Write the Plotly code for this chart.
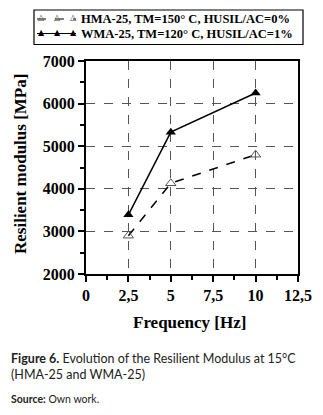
import plotly.graph_objects as go

frequency = [2.5, 5, 10]
hma_values = [2900, 4130, 4800]
wma_values = [3390, 5330, 6250]
hma_name = "HMA-25, TM=150° C, HUSIL/AC=0%"
wma_name = "WMA-25, TM=120° C, HUSIL/AC=1%"
x_tickvals = [0, 2.5, 5, 7.5, 10, 12.5]
x_ticktext = ["0", "2,5", "5", "7,5", "10", "12,5"]
y_tickvals = [2000, 3000, 4000, 5000, 6000, 7000]

serif = "Liberation Serif"
W, H = 323, 415
L, R, T, B = 86, 25, 61, 141
PW, PH = W - L - R, H - T - B


def px(x):
    return (x - L) / PW


def py(y):
    return (H - B - y) / PH


fig = go.Figure()
fig.add_trace(go.Scatter(
    x=frequency, y=hma_values, name=hma_name, mode="lines+markers",
    line=dict(color="black", width=1.5, dash="dash"),
    marker=dict(symbol="triangle-up-open", size=9, color="#555555", line=dict(width=1)),
))
fig.add_trace(go.Scatter(
    x=frequency, y=wma_values, name=wma_name, mode="lines+markers",
    line=dict(color="black", width=1.5),
    marker=dict(symbol="triangle-up", size=9, color="black"),
))

axis_common = dict(
    showline=True, linecolor="black", linewidth=2, mirror=True,
    ticks="outside", ticklen=6, tickwidth=2, tickcolor="black",
    showgrid=True, gridcolor="#555555", gridwidth=1, griddash="dash",
    zeroline=False,
    tickfont=dict(family=serif, size=16, color="black", weight="bold"),
)

fig.update_layout(
    width=W, height=H,
    margin=dict(l=L, r=R, t=T, b=B, autoexpand=False),
    paper_bgcolor="white", plot_bgcolor="white",
    showlegend=False,
    xaxis=dict(
        range=[0, 12.5], tickvals=x_tickvals, ticktext=x_ticktext,
        minor=dict(ticks="outside", ticklen=4, tickwidth=2, tickcolor="black", dtick=1.25, tick0=0, showgrid=False),
        **axis_common,
    ),
    yaxis=dict(
        range=[2000, 7000], tickvals=y_tickvals,
        minor=dict(ticks="outside", ticklen=4, tickwidth=2, tickcolor="black", dtick=500, tick0=2000, showgrid=False),
        **axis_common,
    ),
)

# legend box (drawn manually to match the compact boxed key)
fig.add_shape(type="rect", xref="paper", yref="paper",
              x0=px(34), x1=px(303), y0=py(10), y1=py(44.5),
              line=dict(color="black", width=1.2), fillcolor="white")
legend_rows = [
    (hma_name, 19, "dash", "△", "#444444"),
    (wma_name, 33.5, "solid", "▲", "black"),
]
for name, ry, dash, sym, scol in legend_rows:
    fig.add_shape(type="line", xref="paper", yref="paper",
                  x0=px(37), x1=px(76), y0=py(ry), y1=py(ry),
                  line=dict(color="black", width=1.2, dash=dash))
    for sx in (41, 57, 73):
        fig.add_annotation(text=sym, xref="paper", yref="paper",
                           x=px(sx), y=py(ry - 1), xanchor="center", yanchor="middle",
                           showarrow=False, font=dict(family="DejaVu Sans", size=8, color=scol))
    fig.add_annotation(text="<b>" + name + "</b>", xref="paper", yref="paper",
                       x=px(79), y=py(ry), xanchor="left", yanchor="middle", showarrow=False,
                       font=dict(family=serif, size=12.5, color="black"))

fig.add_annotation(
    text="<b>Frequency [Hz]</b>", xref="paper", yref="paper",
    x=px(189), y=py(322), xanchor="center", yanchor="middle", showarrow=False,
    font=dict(family=serif, size=17, color="black"),
)
fig.add_annotation(
    text="<b>Resilient modulus [MPa]</b>", xref="paper", yref="paper",
    x=px(20), y=py(164), xanchor="center", yanchor="middle", showarrow=False,
    textangle=-90, font=dict(family=serif, size=17, color="black"),
)

sans = "Lato"
fig.add_annotation(
    text="<b>Figure 6.</b> Evolution of the Resilient Modulus at 15°C<br>(HMA-25 and WMA-25)",
    xref="paper", yref="paper", x=px(9), y=py(349), xanchor="left", yanchor="top",
    align="left", showarrow=False,
    font=dict(family=sans, size=12.5, color="#222222"),
)
fig.add_annotation(
    text="<b>Source:</b> Own work.",
    xref="paper", yref="paper", x=px(9), y=py(391), xanchor="left", yanchor="top",
    align="left", showarrow=False,
    font=dict(family=sans, size=10.5, color="#222222"),
)

fig.write_html(
    "out.html",
    config={"displayModeBar": False},
    post_script="document.body.style.margin='0';document.body.style.overflow='hidden';",
)
